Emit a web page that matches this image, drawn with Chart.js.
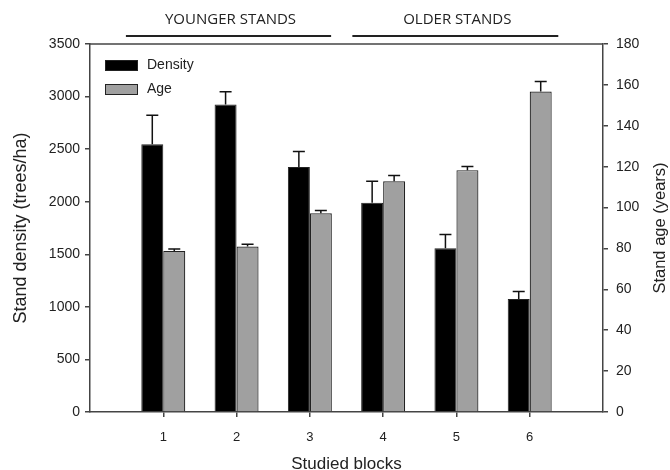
<!DOCTYPE html>
<html>
<head>
<meta charset="utf-8">
<script src="https://cdn.jsdelivr.net/npm/chart.js@4.4.1/dist/chart.umd.min.js"></script>
<style>
  html, body { margin: 0; padding: 0; background: #fff; }
</style>
</head>
<body>
<canvas id="chart" width="670" height="470"></canvas>
<script>
const blocks = [1, 2, 3, 4, 5, 6];
const densityValues = [2546, 2925, 2331, 1989, 1557, 1074];
const densityErrors = [277, 120, 147, 206, 131, 71];
const ageValues = [78.8, 80.9, 97.2, 112.9, 118.3, 156.8];
const ageErrors = [0.9, 1.1, 1.4, 2.8, 1.8, 4.9];
const densityTicks = [0, 500, 1000, 1500, 2000, 2500, 3000, 3500];
const ageTicks = [0, 20, 40, 60, 80, 100, 120, 140, 160, 180];
const groupLabels = ['YOUNGER STANDS', 'OLDER STANDS'];
const ageTitle = 'Stand age (years)';

const AXIS = '#444';
const TEXT = '#222';
const FONT = "'Liberation Sans', Arial, sans-serif";

// whiskers only go up, with a small cap
const errorBars = {
  id: 'errorBars',
  afterDatasetsDraw(chart) {
    const ctx = chart.ctx;
    chart.data.datasets.forEach((ds, di) => {
      const meta = chart.getDatasetMeta(di);
      const scale = chart.scales[ds.yAxisID];
      meta.data.forEach((bar, i) => {
        const yTop = scale.getPixelForValue(ds.errors[i] + ds.data[i].y);
        ctx.save();
        ctx.strokeStyle = '#111';
        ctx.lineWidth = 1.5;
        ctx.beginPath();
        ctx.moveTo(bar.x, bar.y);
        ctx.lineTo(bar.x, yTop);
        ctx.moveTo(bar.x - 6, yTop);
        ctx.lineTo(bar.x + 6, yTop);
        ctx.stroke();
        ctx.restore();
      });
    });
  }
};

// top frame line, in-plot legend, right title (reads upward) and group headers
const decorations = {
  id: 'decorations',
  afterDraw(chart) {
    const { ctx, chartArea } = chart;
    const x = chart.scales.x;
    ctx.save();
    ctx.strokeStyle = AXIS;
    ctx.lineWidth = 1.5;
    ctx.beginPath();
    ctx.moveTo(chartArea.left, chartArea.top);
    ctx.lineTo(chartArea.right, chartArea.top);
    ctx.stroke();

    // legend
    chart.data.datasets.forEach((ds, i) => {
      const bx = chartArea.left + 15;
      const by = chartArea.top + 16 + i * 24;
      ctx.fillStyle = ds.backgroundColor;
      ctx.fillRect(bx, by, 33, 11);
      ctx.strokeStyle = '#222';
      ctx.lineWidth = 1;
      ctx.strokeRect(bx + 0.5, by + 0.5, 32, 10);
      ctx.fillStyle = TEXT;
      ctx.font = '14px ' + FONT;
      ctx.textBaseline = 'middle';
      ctx.textAlign = 'left';
      ctx.fillText(ds.label, bx + 42, by + 5.5);
    });

    // right axis title
    ctx.save();
    ctx.translate(chart.width - 10, (chartArea.top + chartArea.bottom) / 2);
    ctx.rotate(-Math.PI / 2);
    ctx.font = '16.5px ' + FONT;
    ctx.fillStyle = TEXT;
    ctx.textAlign = 'center';
    ctx.textBaseline = 'middle';
    ctx.fillText(ageTitle, 0, 0);
    ctx.restore();

    // group headers
    const spans = [[0.49, 3.29], [3.58, 6.39]];
    ctx.font = "15px 'Open Sans', sans-serif";
    ctx.textAlign = 'center';
    ctx.textBaseline = 'middle';
    spans.forEach((s, i) => {
      const x0 = x.getPixelForValue(s[0]);
      const x1 = x.getPixelForValue(s[1]);
      ctx.strokeStyle = '#222';
      ctx.lineWidth = 2;
      ctx.beginPath();
      ctx.moveTo(x0, 36);
      ctx.lineTo(x1, 36);
      ctx.stroke();
      ctx.fillStyle = TEXT;
      ctx.fillText(groupLabels[i], (x0 + x1) / 2 + 2, 20);
    });
    ctx.restore();
  }
};

const hideEnds = (c) => (c.tick && (c.tick.value === 0 || c.tick.value === 7)) ? 'rgba(0,0,0,0)' : AXIS;
const plain = (v) => String(v);

new Chart(document.getElementById('chart'), {
  type: 'bar',
  data: {
    datasets: [
      {
        label: 'Density',
        data: blocks.map((b, i) => ({ x: b, y: densityValues[i] })),
        errors: densityErrors,
        yAxisID: 'y',
        backgroundColor: '#000000',
        borderColor: '#222',
        borderWidth: 1,
        categoryPercentage: 0.6,
        barPercentage: 1
      },
      {
        label: 'Age',
        data: blocks.map((b, i) => ({ x: b, y: ageValues[i] })),
        errors: ageErrors,
        yAxisID: 'y2',
        backgroundColor: '#a0a0a0',
        borderColor: '#222',
        borderWidth: 1.2,
        categoryPercentage: 0.6,
        barPercentage: 1
      }
    ]
  },
  options: {
    responsive: false,
    devicePixelRatio: 1,
    animation: false,
    layout: { padding: { top: 44, left: 0, right: 0, bottom: 0 } },
    plugins: { legend: { display: false }, tooltip: { enabled: false } },
    scales: {
      x: {
        type: 'linear',
        min: 0,
        max: 7,
        offset: false,
        afterBuildTicks: (s) => { s.ticks = [0].concat(blocks, [7]).map(v => ({ value: v })); },
        ticks: {
          callback: (v) => (v >= 1 && v <= 6) ? String(v) : '',
          color: TEXT,
          font: { family: FONT, size: 13 },
          padding: 13,
          maxRotation: 0
        },
        grid: { offset: false, drawOnChartArea: false, tickLength: 5, color: hideEnds, lineWidth: 1.5 },
        border: { color: AXIS, width: 1.5 },
        title: {
          display: true,
          text: 'Studied blocks',
          color: TEXT,
          font: { family: FONT, size: 17, lineHeight: 1 },
          padding: { top: 0, bottom: -3 }
        },
        afterFit: (s) => { s.height = 58; }
      },
      y: {
        position: 'left',
        min: 0,
        max: 3500,
        afterBuildTicks: (s) => { s.ticks = densityTicks.map(v => ({ value: v })); },
        ticks: { callback: plain, color: TEXT, font: { family: FONT, size: 14 }, padding: 5 },
        grid: { drawOnChartArea: false, tickLength: 5, color: AXIS, lineWidth: 1.5 },
        border: { color: AXIS, width: 1.5 },
        title: {
          display: true,
          text: 'Stand density (trees/ha)',
          color: TEXT,
          font: { family: FONT, size: 18 },
          padding: { top: 10, bottom: 0 }
        },
        afterFit: (s) => { s.width = 90; }
      },
      y2: {
        position: 'right',
        min: 0,
        max: 180,
        afterBuildTicks: (s) => { s.ticks = ageTicks.map(v => ({ value: v })); },
        ticks: { callback: plain, color: TEXT, font: { family: FONT, size: 14 }, padding: 8 },
        grid: { drawOnChartArea: false, tickLength: 5, color: AXIS, lineWidth: 1.5 },
        border: { color: AXIS, width: 1.5 },
        afterFit: (s) => { s.width = 67; }
      }
    }
  },
  plugins: [errorBars, decorations]
});
</script>
</body>
</html>
